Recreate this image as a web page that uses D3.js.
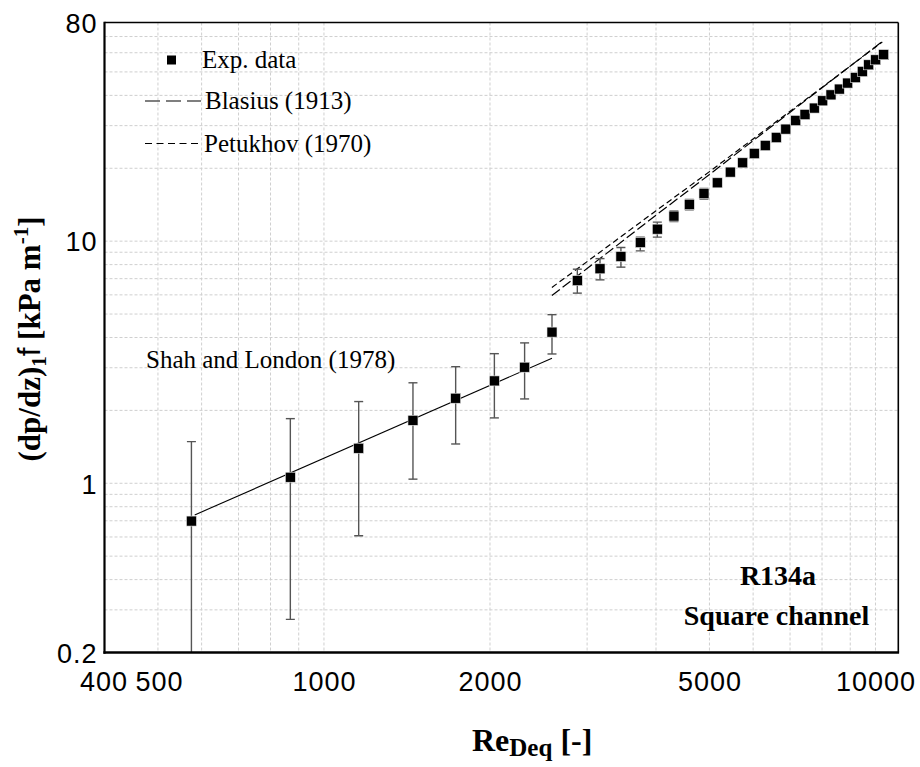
<!DOCTYPE html>
<html><head><meta charset="utf-8">
<script src="https://cdn.jsdelivr.net/npm/d3@7"></script>
<style>body{margin:0;background:#fff}</style>
</head><body>
<svg id="c" width="920" height="767"></svg>
<script>
// ---------- data ----------
const expRe  = [575, 869, 1156, 1450, 1733, 2037, 2311, 2591, 2880, 3166, 3455, 3746, 4022, 4311, 4597, 4887, 5166, 5454, 5744, 6029, 6312, 6609, 6877, 7168, 7451, 7745, 8023, 8305, 8598, 8905, 9193, 9465, 9721, 10009, 10349];
const expVal = [0.698, 1.059, 1.395, 1.82, 2.245, 2.647, 3.015, 4.21, 6.87, 7.69, 8.64, 9.87, 11.21, 12.69, 14.17, 15.73, 17.42, 19.28, 21.07, 23.01, 24.83, 26.8, 29.02, 31.5, 33.35, 35.45, 38.0, 40.2, 42.47, 44.97, 47.4, 50.2, 53.5, 56.1, 58.9];
const errLow = [0.15, 0.274, 0.607, 1.04, 1.453, 1.862, 2.23, 3.42, 6.10, 6.92, 7.81, 9.12, 10.39, 12.06, 13.46, 14.94, 16.72, 18.51, 20.23, 22.09, 23.84, 25.73, 27.86, 30.24, 32.02, 34.03, 36.48, 38.59, 40.77, 43.17, 45.5, 48.19, 51.36, 53.86, 56.54];
const errHigh = [1.486, 1.849, 2.175, 2.60, 3.03, 3.43, 3.80, 4.97, 7.66, 8.47, 9.41, 10.39, 11.98, 13.32, 14.88, 16.52, 18.12, 20.05, 21.91, 23.93, 25.82, 27.87, 30.18, 32.76, 34.68, 36.87, 39.52, 41.81, 44.17, 46.77, 49.3, 52.21, 55.64, 58.34, 61.26];

const shahRe = [583, 2591];
const shahVal = [0.74, 3.285];
const blasiusRe = [2590, 3000, 4000, 5000, 6000, 8000, 10290];
const blasiusVal = [5.96, 7.71, 12.8, 18.85, 26.0, 43.0, 66.8];
const petukhovRe = [2590, 3000, 4000, 5000, 6000, 8000, 10290];
const petukhovVal = [6.44, 8.23, 13.35, 19.37, 26.44, 43.17, 66.5];

const xTickLabels = [400, 500, 1000, 2000, 5000, 10000];
const yTickLabels = [0.2, 1, 10, 80];
const xGridValues = [500, 600, 700, 800, 900, 1000, 2000, 3000, 4000, 5000, 6000, 7000, 8000, 9000, 10000];
const yGridValues = [0.3, 0.4, 0.5, 0.6, 0.7, 0.8, 0.9, 1, 2, 3, 4, 5, 6, 7, 8, 9, 10, 20, 30, 40, 50, 60, 70];

// ---------- layout ----------
const svg = d3.select("#c");
const L = 104.5, R = 898.3, T = 22.5, B = 652.5;
const x = d3.scaleLog().domain([400, 11000]).range([L, R]);
const y = d3.scaleLog().domain([0.2, 80]).range([B, T]);
const serif = "'Liberation Serif','Times New Roman',serif";
const sans = "'Liberation Sans',Arial,sans-serif";

svg.append("defs").append("clipPath").attr("id", "clip")
  .append("rect").attr("x", L).attr("y", T).attr("width", R - L).attr("height", B - T);

// grid
const grid = svg.append("g").attr("stroke", "#cfcfcf").attr("stroke-width", 1).attr("stroke-dasharray", "3,2");
grid.selectAll("line.v").data(xGridValues).join("line")
  .attr("x1", d => x(d)).attr("x2", d => x(d)).attr("y1", T).attr("y2", B);
grid.selectAll("line.h").data(yGridValues).join("line")
  .attr("y1", d => y(d)).attr("y2", d => y(d)).attr("x1", L).attr("x2", R);

const plot = svg.append("g").attr("clip-path", "url(#clip)");
const line = d3.line().x(d => x(d[0])).y(d => y(d[1]));

plot.append("path").datum(d3.zip(shahRe, shahVal)).attr("d", line)
  .attr("fill", "none").attr("stroke", "#000").attr("stroke-width", 1.1);
plot.append("path").datum(d3.zip(blasiusRe, blasiusVal)).attr("d", line)
  .attr("fill", "none").attr("stroke", "#000").attr("stroke-width", 1.2).attr("stroke-dasharray", "10,3.5");
plot.append("path").datum(d3.zip(petukhovRe, petukhovVal)).attr("d", line)
  .attr("fill", "none").attr("stroke", "#000").attr("stroke-width", 1.2).attr("stroke-dasharray", "6,3.5");

// error bars
const pts = expRe.map((r, i) => ({r, v: expVal[i], lo: errLow[i], hi: errHigh[i]}));
const eb = plot.append("g").attr("stroke", "#555").attr("stroke-width", 1.4);
eb.selectAll("line.s").data(pts).join("line")
  .attr("x1", d => x(d.r)).attr("x2", d => x(d.r)).attr("y1", d => y(d.lo)).attr("y2", d => y(d.hi));
eb.selectAll("line.t").data(pts).join("line")
  .attr("x1", d => x(d.r) - 4.5).attr("x2", d => x(d.r) + 4.5).attr("y1", d => y(d.hi)).attr("y2", d => y(d.hi));
eb.selectAll("line.b").data(pts).join("line")
  .attr("x1", d => x(d.r) - 4.5).attr("x2", d => x(d.r) + 4.5).attr("y1", d => y(d.lo)).attr("y2", d => y(d.lo));

// markers
const S = 10;
plot.append("g").selectAll("rect").data(pts).join("rect")
  .attr("x", d => x(d.r) - S / 2).attr("y", d => y(d.v) - S / 2)
  .attr("width", S).attr("height", S).attr("fill", "#000")
  .attr("stroke", "#e8e8e8").attr("stroke-width", 0.6);

// frame
svg.append("line").attr("x1", L).attr("x2", R).attr("y1", T).attr("y2", T).attr("stroke", "#000").attr("stroke-width", 1.6);
svg.append("line").attr("x1", R).attr("x2", R).attr("y1", T).attr("y2", B).attr("stroke", "#000").attr("stroke-width", 1.6);
svg.append("line").attr("x1", L).attr("x2", L).attr("y1", T - 0.8).attr("y2", B + 1.2).attr("stroke", "#000").attr("stroke-width", 2.2);
svg.append("line").attr("x1", L - 1.1).attr("x2", R + 0.8).attr("y1", B).attr("y2", B).attr("stroke", "#000").attr("stroke-width", 2.4);

// axes tick labels via d3 axes
const xAxis = d3.axisBottom(x).tickValues(xTickLabels).tickFormat(d3.format("d")).tickSize(0).tickPadding(0);
const gx = svg.append("g").attr("transform", `translate(0,${B})`).call(xAxis);
gx.select(".domain").remove();
gx.selectAll("text").attr("font-family", sans).attr("font-size", 27).attr("fill", "#000")
  .attr("letter-spacing", "1px").attr("y", 38).attr("dy", 0);
gx.selectAll(".tick").filter(d => d === 400).select("text").attr("dx", -1);
gx.selectAll(".tick").filter(d => d === 500).select("text").attr("dx", 1);

const yAxis = d3.axisLeft(y).tickValues(yTickLabels).tickFormat(d => String(d)).tickSize(0).tickPadding(0);
const gy = svg.append("g").attr("transform", `translate(${L},0)`).call(yAxis);
gy.select(".domain").remove();
gy.selectAll("text").attr("font-family", sans).attr("font-size", 27).attr("fill", "#000")
  .attr("letter-spacing", "1px").attr("x", -7).attr("dy", "0.36em");

// axis titles
const xt = svg.append("text").attr("x", 472).attr("y", 751).attr("font-family", serif).attr("font-weight", "bold").attr("fill", "#000");
xt.append("tspan").attr("font-size", 32).text("Re");
xt.append("tspan").attr("font-size", 25).attr("dy", 5).text("Deq");
xt.append("tspan").attr("font-size", 32).attr("dy", -5).text(" [-]");

const yt = svg.append("text").attr("transform", "translate(40,339) rotate(-90)").attr("text-anchor", "middle")
  .attr("font-family", serif).attr("font-weight", "bold").attr("font-size", 31).attr("fill", "#000");
yt.append("tspan").text("(dp/dz)");
yt.append("tspan").attr("font-size", 21).attr("dy", 6).text("1");
yt.append("tspan").attr("font-family", sans).attr("font-weight", "normal").attr("font-size", 31).attr("dy", -6).text("f");
yt.append("tspan").text(" [kPa m");
yt.append("tspan").attr("font-size", 21).attr("dy", -12).text("-1");
yt.append("tspan").attr("dy", 12).text("]");

// legend
const lg = svg.append("g").attr("font-family", serif).attr("font-size", 25).attr("fill", "#000");
lg.append("rect").attr("x", 167).attr("y", 55.5).attr("width", 9).attr("height", 9).attr("fill", "#000");
lg.append("text").attr("x", 202).attr("y", 67.5).text("Exp. data");
lg.append("line").attr("x1", 145).attr("x2", 201).attr("y1", 101).attr("y2", 101)
  .attr("stroke", "#000").attr("stroke-width", 1.2).attr("stroke-dasharray", "15,6");
lg.append("text").attr("x", 205).attr("y", 109).text("Blasius (1913)");
lg.append("line").attr("x1", 145).attr("x2", 198).attr("y1", 143.5).attr("y2", 143.5)
  .attr("stroke", "#000").attr("stroke-width", 1.2).attr("stroke-dasharray", "7,4.5");
lg.append("text").attr("x", 204).attr("y", 152).text("Petukhov (1970)");

// annotations
svg.append("text").attr("x", 146).attr("y", 368).attr("font-family", serif).attr("font-size", 25).attr("fill", "#000")
  .text("Shah and London (1978)");
svg.append("text").attr("x", 778).attr("y", 585).attr("text-anchor", "middle").attr("font-family", serif)
  .attr("font-weight", "bold").attr("font-size", 28).attr("fill", "#000").text("R134a");
svg.append("text").attr("x", 776.5).attr("y", 625).attr("text-anchor", "middle").attr("font-family", serif)
  .attr("font-weight", "bold").attr("font-size", 28).attr("fill", "#000").text("Square channel");
</script>
</body></html>
